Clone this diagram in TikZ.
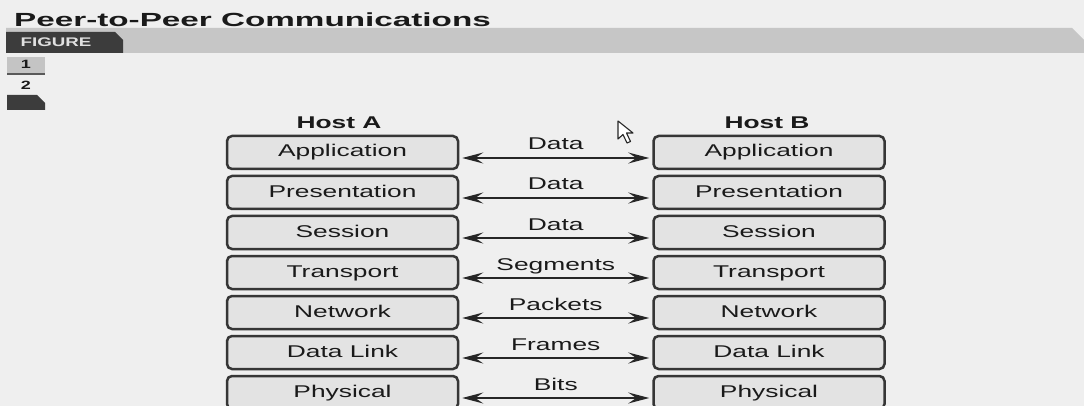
\documentclass[tikz,border=0pt]{standalone}
\usepackage{fontspec}
\setmainfont{Liberation Sans}
\newfontfamily\bodyfont[FakeStretch=1.55]{Liberation Sans}
\newfontfamily\titlefont[FakeStretch=1.75]{Liberation Sans}
\newfontfamily\tabfont[FakeStretch=1.5]{Liberation Sans}
\usetikzlibrary{arrows.meta}
\definecolor{bgc}{HTML}{EFEFEF}
\definecolor{bandc}{HTML}{C6C6C6}
\definecolor{tabc}{HTML}{3C3C3C}
\definecolor{boxfill}{HTML}{E3E3E3}
\definecolor{boxline}{HTML}{363636}
\definecolor{txt}{HTML}{1A1A1A}
\definecolor{arrowc}{HTML}{262626}
\definecolor{numc}{HTML}{C4C4C4}
\begin{document}
\begin{tikzpicture}[x=1pt,y=-1pt,
  layer/.style={draw=boxline, fill=boxfill, line width=2.5pt, rounded corners=5pt,
    minimum width=231pt, minimum height=33pt, inner sep=0pt,
    text height=12.5pt, text depth=3.5pt,
    font=\bodyfont\fontsize{17}{20}\selectfont, text=txt},
  link/.style={{Stealth[length=21pt,width=11pt,inset=8pt]}-{Stealth[length=21pt,width=11pt,inset=8pt]},
    line width=1.5pt, draw=arrowc, shorten <=3pt, shorten >=3pt},
  lbl/.style={font=\bodyfont\fontsize{17}{20}\selectfont, text=txt, anchor=base, inner sep=0pt},
  host/.style={font=\bodyfont\bfseries\fontsize{17}{20}\selectfont, anchor=base, inner sep=0pt, text=txt},
  num/.style={anchor=base, inner sep=0pt, text=txt, font=\tabfont\bfseries\fontsize{12}{14}\selectfont}]
\useasboundingbox (0,0) rectangle (1084,406);
\clip (0,0) rectangle (1084,406);
\fill[bgc] (0,0) rectangle (1084,406);
% title band
\fill[bandc] (6,28) -- (1072,28) -- (1084,40) -- (1084,53) -- (6,53) -- cycle;
\fill[tabc] (6,32) -- (115,32) -- (123,40) -- (123,53) -- (6,53) -- cycle;
\node[anchor=base west, inner sep=0pt, text=txt, font=\titlefont\bfseries\fontsize{19}{22}\selectfont] (title) at (14,27) {Peer-to-Peer Communications};
\node[anchor=base, inner sep=0pt, text=white!88!black, font=\tabfont\bfseries\fontsize{12.5}{14}\selectfont] (fig) at (56,47) {FIGURE};
% side tabs
\fill[numc] (7,57) rectangle (45,73);
\fill[black!65] (7,73) rectangle (45,75);
\node[num] (n1) at (26,69) {1};
\node[num] (n2) at (26,90) {2};
\fill[tabc] (7,95) -- (37,95) -- (45,103) -- (45,110) -- (7,110) -- cycle;
% hosts
\node[host] (hA) at (339,129) {Host A};
\node[host] (hB) at (767,129) {Host B};
\foreach \i/\n/\l in {1/Application/Data, 2/Presentation/Data, 3/Session/Data,
  4/Transport/Segments, 5/Network/Packets, 6/Data Link/Frames, 7/Physical/Bits} {
  \node[layer] (a\i) at (342.5,{152.5+40*(\i-1)}) {\n};
  \node[layer] (b\i) at (769,{152.5+40*(\i-1)}) {\n};
  \draw[link] ([yshift=-5.5pt]a\i.east) -- node[lbl, yshift=8pt] (l\i) {\l} ([yshift=-5.5pt]b\i.west);
}
% mouse cursor
\draw[fill=white, line width=1.1pt, line join=round, draw=black!85]
  (618,121) -- (618,139) -- (623,134.5) -- (627,143) -- (630.5,141.5) -- (626.5,133) -- (633,133) -- cycle;
\end{tikzpicture}
\end{document}
